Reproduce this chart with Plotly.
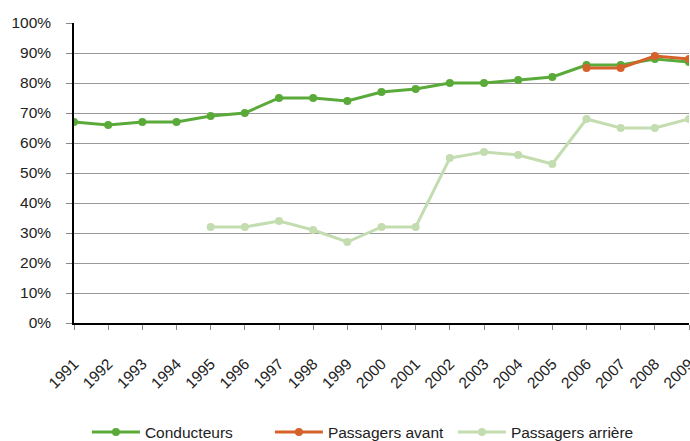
import plotly.graph_objects as go

years = list(range(1991, 2010))
conducteurs = [67, 66, 67, 67, 69, 70, 75, 75, 74, 77, 78, 80, 80, 81, 82, 86, 86, 88, 87]
years_avant = [2006, 2007, 2008, 2009]
passagers_avant = [85, 85, 89, 88]
years_arriere = list(range(1995, 2010))
passagers_arriere = [32, 32, 34, 31, 27, 32, 32, 55, 57, 56, 53, 68, 65, 65, 68]
y_ticks = list(range(0, 101, 10))
y_labels = [f"{v}%" for v in y_ticks]

fig = go.Figure()
fig.add_trace(go.Scatter(x=years, y=conducteurs, name="Conducteurs", mode="lines+markers",
                         line=dict(color="#5aaa3a", width=3), marker=dict(size=8, color="#5aaa3a")))
fig.add_trace(go.Scatter(x=years_avant, y=passagers_avant, name="Passagers avant", mode="lines+markers",
                         line=dict(color="#d4622a", width=3), marker=dict(size=8, color="#d4622a")))
fig.add_trace(go.Scatter(x=years_arriere, y=passagers_arriere, name="Passagers arrière", mode="lines+markers",
                         line=dict(color="#c3ddb0", width=3), marker=dict(size=8, color="#c3ddb0")))

font = "Liberation Sans Narrow, Arial Narrow, sans-serif"
fs = 15.5
fig.update_layout(
    width=690, height=441,
    margin=dict(l=74, r=1, t=23, b=118, autoexpand=False),
    paper_bgcolor="white", plot_bgcolor="white",
    font=dict(family=font, size=fs, color="#222"),
    legend=dict(orientation="h", x=0.021, xanchor="left", y=-0.365, yanchor="middle",
                font=dict(size=fs, color="#222"), itemwidth=48, tracegroupgap=0,
                entrywidth=120, entrywidthmode="pixels"),
    showlegend=True,
)
fig.update_xaxes(range=[1991, 2009], tickmode="array", tickvals=years, ticktext=[str(y) for y in years],
                 tickangle=-45, showline=True, linecolor="black", linewidth=1.5, automargin=False,
                 ticks="outside", ticklen=5, tickcolor="#888", showgrid=False, zeroline=False,
                 ticklabelstandoff=19, ticklabeloverflow="allow",
                 tickfont=dict(size=fs, color="#222"))
fig.update_yaxes(range=[0, 100], tickmode="array", tickvals=y_ticks, ticktext=y_labels,
                 showline=True, linecolor="black", linewidth=1.5, ticks="outside", ticklen=6,
                 automargin=False,
                 tickcolor="#888", showgrid=True, gridcolor="#999", gridwidth=1, zeroline=False,
                 ticklabelstandoff=12, tickfont=dict(size=fs, color="#222"))

fig.write_html("out.html", config={"displayModeBar": False},
               post_script="document.body.style.margin='0';document.body.style.overflow='hidden';")
